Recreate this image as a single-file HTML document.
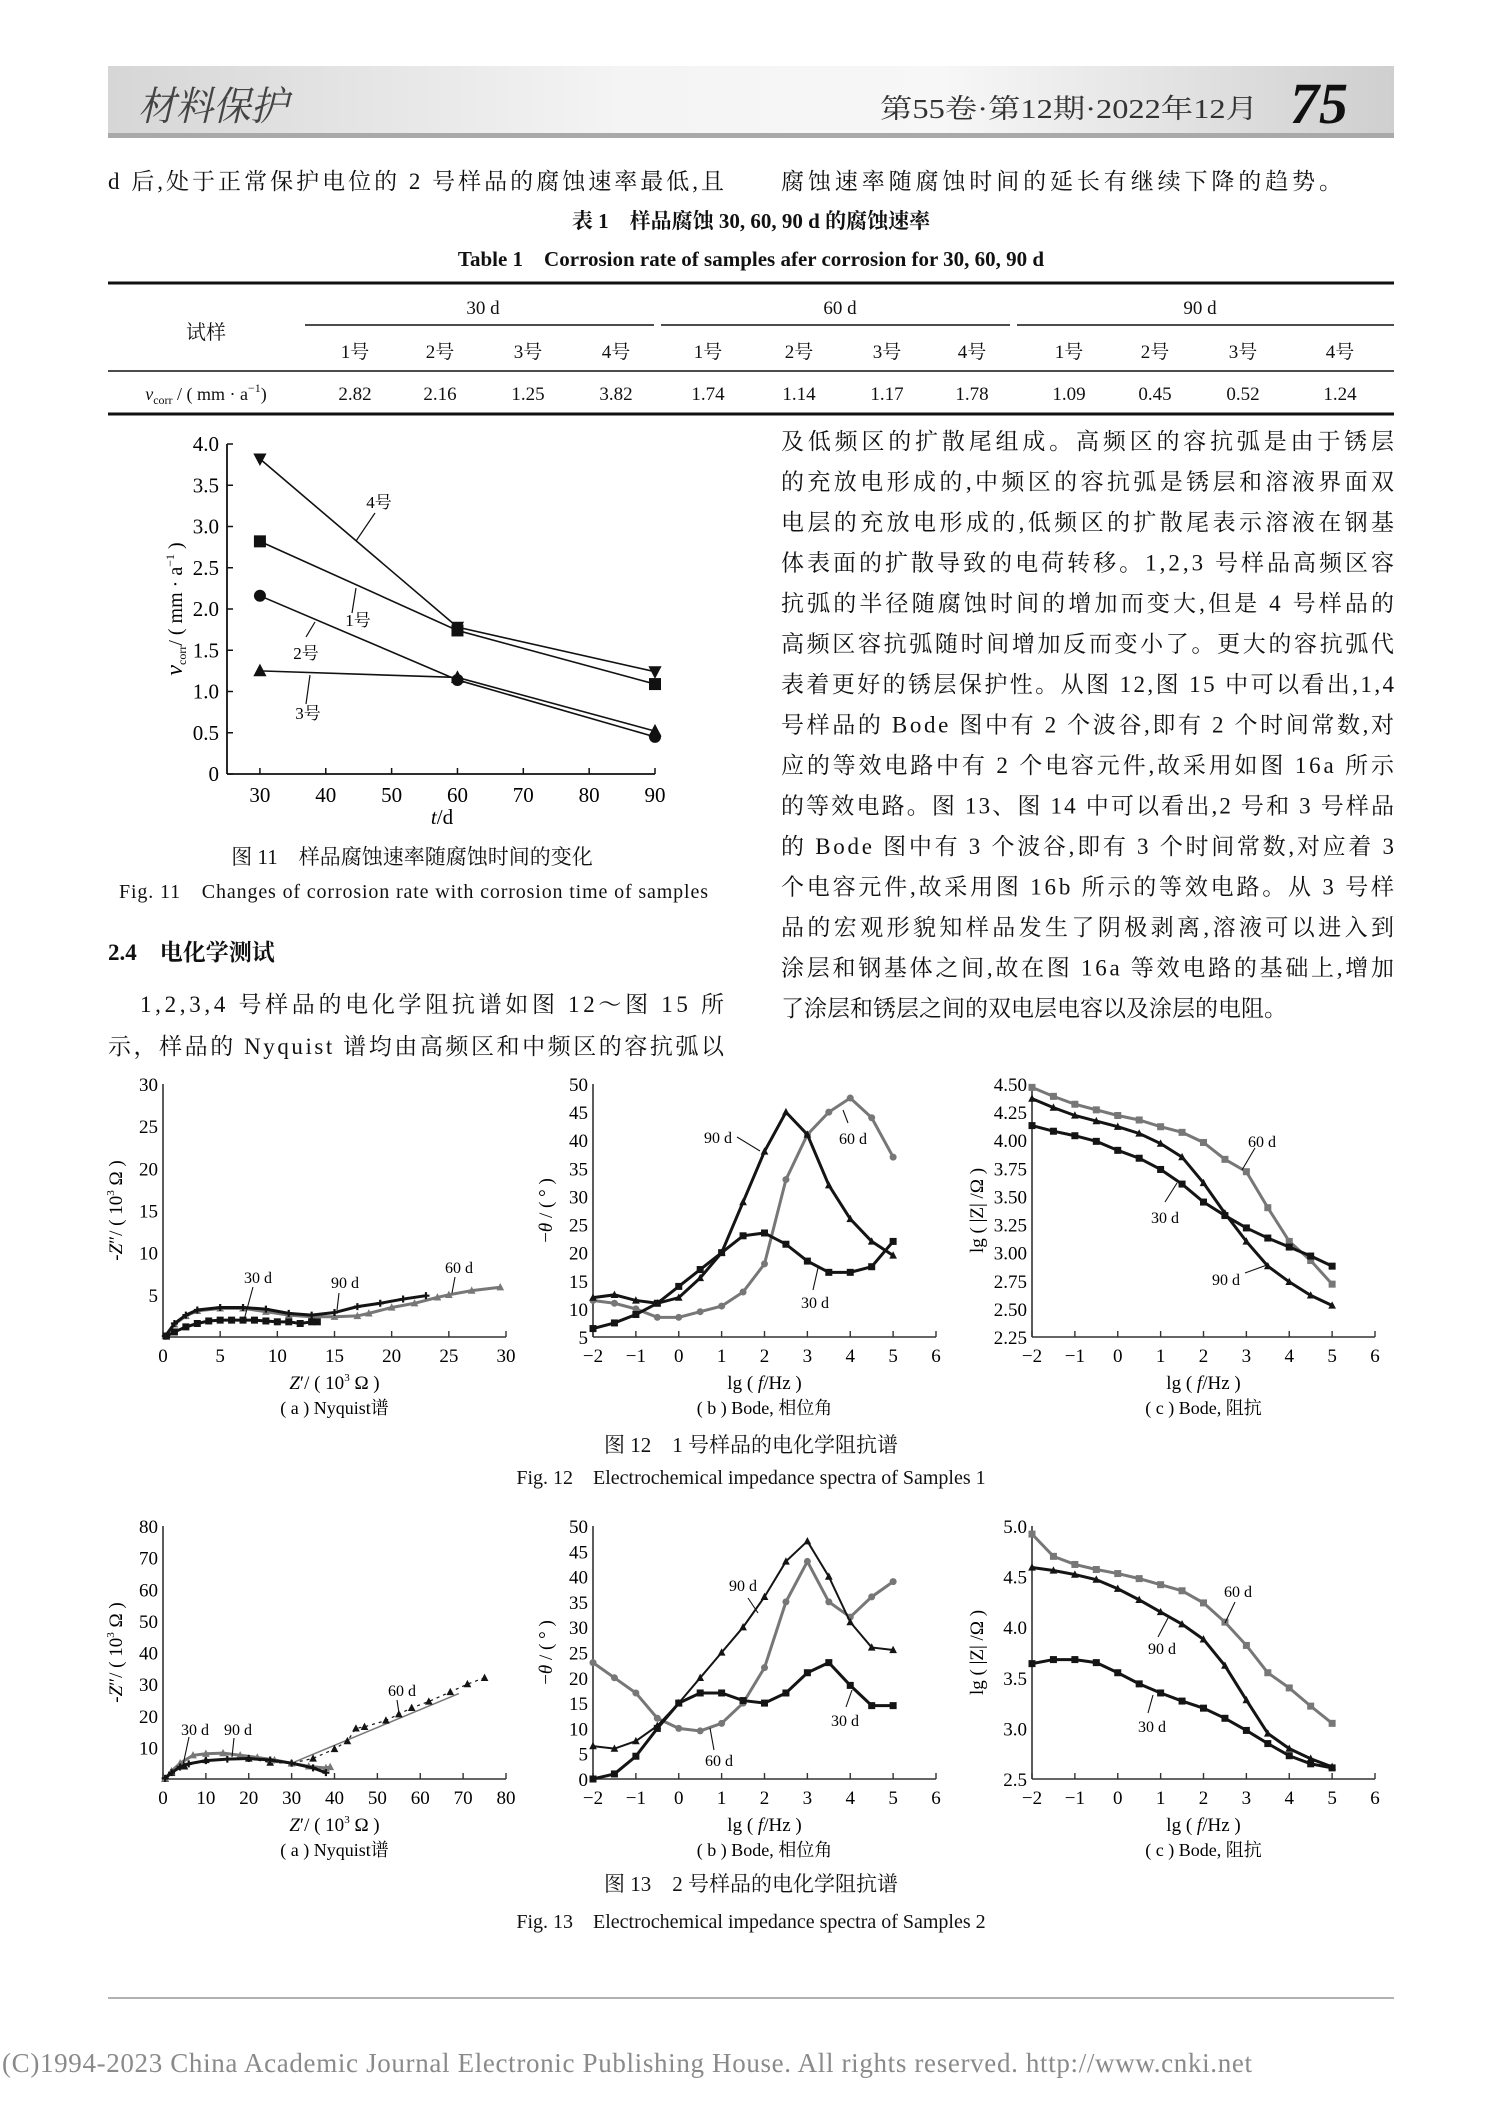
<!DOCTYPE html>
<html><head><meta charset="utf-8"><title>材料保护 p75</title>
<style>
html,body{margin:0;padding:0;background:#fff;}
svg{display:block;}
.s{font-family:"Liberation Serif","Noto Serif CJK SC",serif;}
.c{font-family:"Liberation Serif","Noto Serif CJK SC",serif;}
.h{font-family:"Liberation Sans","Noto Sans CJK SC",sans-serif;}
</style></head>
<body>
<svg id="page" width="1489" height="2106" viewBox="0 0 1489 2106" xmlns="http://www.w3.org/2000/svg">
<defs>
<linearGradient id="hg" x1="0" x2="1" y1="0" y2="0">
<stop offset="0" stop-color="#d6d6d6"/><stop offset="0.4" stop-color="#f4f4f4"/><stop offset="0.65" stop-color="#f7f7f7"/><stop offset="1" stop-color="#cfcfcf"/>
</linearGradient>
</defs>
<g>
<rect x="108" y="66" width="1286" height="68" fill="url(#hg)"/>
<rect x="108" y="133" width="1286" height="5" fill="#a9a9a9"/>
<text x="138" y="120" font-size="40" font-style="italic" fill="#444" class="c" textLength="150" lengthAdjust="spacingAndGlyphs">材料保护</text>
<text x="880" y="118" font-size="27" fill="#333" class="s" textLength="378" lengthAdjust="spacingAndGlyphs">第55卷·第12期·2022年12月</text>
<text x="1290" y="123" font-size="58" font-weight="bold" font-style="italic" fill="#111" class="s">75</text>
</g>
<g font-size="23" class="c" fill="#111">
<text x="108" y="189" textLength="616" lengthAdjust="spacing">d 后,处于正常保护电位的 2 号样品的腐蚀速率最低,且</text>
<text x="781" y="189" textLength="561" lengthAdjust="spacing">腐蚀速率随腐蚀时间的延长有继续下降的趋势。</text>
</g>
<g class="s" fill="#111">
<text x="751" y="228" font-size="21" text-anchor="middle" font-weight="bold">表 1　样品腐蚀 30, 60, 90 d 的腐蚀速率</text>
<text x="751" y="266" font-size="21" text-anchor="middle" font-weight="bold">Table 1　Corrosion rate of samples afer corrosion for 30,  60, 90 d</text>
<line x1="108" y1="283" x2="1394" y2="283" stroke="#111" stroke-width="3"/>
<line x1="305" y1="325" x2="654" y2="325" stroke="#111" stroke-width="1.5"/>
<line x1="661" y1="325" x2="1010" y2="325" stroke="#111" stroke-width="1.5"/>
<line x1="1017" y1="325" x2="1394" y2="325" stroke="#111" stroke-width="1.5"/>
<line x1="108" y1="371" x2="1394" y2="371" stroke="#111" stroke-width="1.5"/>
<line x1="108" y1="414" x2="1394" y2="414" stroke="#111" stroke-width="3"/>
<text x="206" y="339" font-size="20" text-anchor="middle">试样</text>
<text x="483" y="314" font-size="19" text-anchor="middle">30 d</text>
<text x="840" y="314" font-size="19" text-anchor="middle">60 d</text>
<text x="1200" y="314" font-size="19" text-anchor="middle">90 d</text>
<text x="206" y="400" font-size="18" text-anchor="middle"><tspan font-style="italic">v</tspan><tspan font-size="12" dy="4">corr</tspan><tspan dy="-4"> / ( mm · a</tspan><tspan font-size="12" dy="-8">−1</tspan><tspan dy="8">)</tspan></text>
<g id="tableCells"></g>
</g>

<g id="fig11"></g>
<text x="412" y="864" font-size="21" text-anchor="middle" class="s" fill="#111">图 11　样品腐蚀速率随腐蚀时间的变化</text>
<text x="119" y="898" font-size="20" class="s" fill="#111" textLength="589" lengthAdjust="spacing">Fig. 11　Changes of corrosion rate with corrosion time of samples</text>

<g class="c" fill="#111" font-size="23">
<text x="108" y="960" font-weight="bold">2.4　电化学测试</text>
<text x="140" y="1012" textLength="584" lengthAdjust="spacing">1,2,3,4 号样品的电化学阻抗谱如图 12～图 15 所</text>
<text x="108" y="1054" textLength="616" lengthAdjust="spacing">示，样品的 Nyquist 谱均由高频区和中频区的容抗弧以</text>
</g>
<g id="rightCol" class="c" fill="#111" font-size="23"></g>

<g id="fig12"></g>
<text x="751" y="1452" font-size="21" text-anchor="middle" class="s" fill="#111">图 12　1 号样品的电化学阻抗谱</text>
<text x="751" y="1484" font-size="20" text-anchor="middle" class="s" fill="#111">Fig. 12　Electrochemical impedance spectra of Samples 1</text>
<g id="fig13"></g>
<text x="751" y="1891" font-size="21" text-anchor="middle" class="s" fill="#111">图 13　2 号样品的电化学阻抗谱</text>
<text x="751" y="1928" font-size="20" text-anchor="middle" class="s" fill="#111">Fig. 13　Electrochemical impedance spectra of Samples 2</text>
<line x1="108" y1="1998" x2="1394" y2="1998" stroke="#999" stroke-width="1.5"/>
<text x="2" y="2072" font-size="27" class="s" fill="#8a8a8a" textLength="1250" lengthAdjust="spacing">(C)1994-2023 China Academic Journal Electronic Publishing House. All rights reserved.    http://www.cnki.net</text>
</svg>
<script>
// ---------- Table data ----------
const tableSamples = ["1号","2号","3号","4号","1号","2号","3号","4号","1号","2号","3号","4号"];
const tableRates = ["2.82","2.16","1.25","3.82","1.74","1.14","1.17","1.78","1.09","0.45","0.52","1.24"];

// ---------- Figure 11 data ----------
const f11Days = [30, 60, 90];
const f11Sample1 = [2.82, 1.74, 1.09];
const f11Sample2 = [2.16, 1.14, 0.45];
const f11Sample3 = [1.25, 1.17, 0.52];
const f11Sample4 = [3.82, 1.78, 1.24];
const f11YTicks = [0, 0.5, 1.0, 1.5, 2.0, 2.5, 3.0, 3.5, 4.0];
const f11YLabels = ["0","0.5","1.0","1.5","2.0","2.5","3.0","3.5","4.0"];
const f11XTicks = [30, 40, 50, 60, 70, 80, 90];

// ---------- Figure 12 / 13 data ----------
const lgF = [-2, -1.5, -1, -0.5, 0, 0.5, 1, 1.5, 2, 2.5, 3, 3.5, 4, 4.5, 5];
const bodeXTicks = [-2, -1, 0, 1, 2, 3, 4, 5, 6];
const bodeXLabels = ["−2","−1","0","1","2","3","4","5","6"];

const f12aZre30 = [0.3, 1, 2, 3, 4, 5, 6, 7, 8, 9, 10, 11, 12, 13, 13.5];
const f12aZim30 = [0.1, 0.6, 1.2, 1.6, 1.9, 2.0, 2.0, 2.0, 2.0, 1.9, 1.8, 1.8, 1.6, 1.8, 1.8];
const f12aZre60 = [0.2, 1, 2, 3, 5, 7, 9, 11, 13, 15, 17, 18, 20, 22, 24, 25, 27, 29.5];
const f12aZim60 = [0.1, 1.5, 2.5, 3.1, 3.4, 3.4, 3.0, 2.6, 2.4, 2.4, 2.5, 2.8, 3.5, 4.0, 4.7, 5.0, 5.5, 5.9];
const f12aZre90 = [0.2, 1, 2, 3, 5, 7, 9, 11, 13, 15, 17, 19, 21, 23];
const f12aZim90 = [0.1, 1.6, 2.6, 3.2, 3.5, 3.5, 3.3, 2.8, 2.6, 2.9, 3.6, 4.0, 4.5, 4.9];
const f12aTicks = [0, 5, 10, 15, 20, 25, 30];

const f12bPhase30 = [6.5, 7.5, 9, 11, 14, 17, 20, 23, 23.5, 21.5, 18.5, 16.5, 16.5, 17.5, 22];
const f12bPhase60 = [11.5, 11, 10, 8.5, 8.5, 9.5, 10.5, 13, 18, 33, 41, 45, 47.5, 44, 37];
const f12bPhase90 = [12, 12.5, 11.5, 11, 12, 15.5, 20, 29, 38, 45, 41, 32, 26, 22, 19.5];
const f12bYTicks = [5, 10, 15, 20, 25, 30, 35, 40, 45, 50];

const f12cZ30 = [4.13, 4.08, 4.04, 3.99, 3.91, 3.84, 3.74, 3.61, 3.45, 3.33, 3.22, 3.13, 3.05, 2.97, 2.88];
const f12cZ60 = [4.47, 4.39, 4.32, 4.27, 4.22, 4.18, 4.12, 4.07, 3.98, 3.83, 3.72, 3.40, 3.10, 2.93, 2.72];
const f12cZ90 = [4.37, 4.29, 4.22, 4.17, 4.12, 4.06, 3.97, 3.85, 3.62, 3.35, 3.10, 2.88, 2.74, 2.62, 2.53];
const f12cYTicks = [2.25, 2.5, 2.75, 3.0, 3.25, 3.5, 3.75, 4.0, 4.25, 4.5];
const f12cYLabels = ["2.25","2.50","2.75","3.00","3.25","3.50","3.75","4.00","4.25","4.50"];

const f13aZre30 = [0.5, 2, 4, 6, 10, 15, 20, 25, 30, 35, 38];
const f13aZim30 = [0.2, 2, 3.8, 4.8, 5.8, 6.3, 6.5, 6.0, 5.0, 3.5, 2.0];
const f13aZre60 = [0.5, 2, 5, 10, 20, 25, 30, 35, 40, 43, 45, 47, 52, 55, 58, 62, 67, 71, 75];
const f13aZim60 = [0.1, 2, 4, 6, 6.5, 5.2, 5.0, 6.5, 9.5, 12, 16, 16.5, 18.5, 20.5, 22.5, 24.5, 27.5, 30, 32];
const f13aZre90 = [0.5, 2, 4, 7, 10, 14, 18, 22, 26, 30, 34, 38, 39];
const f13aZim90 = [0.2, 2.5, 5, 7.5, 8, 8.2, 7.5, 6.8, 6.0, 5.0, 4.0, 3.5, 3.8];
const f13aFitZre = [30, 69];
const f13aFitZim = [5, 27];
const f13aTicks = [0, 10, 20, 30, 40, 50, 60, 70, 80];

const f13bPhase30 = [0, 1, 4.5, 10, 15, 17, 17, 15.5, 15, 17, 21, 23, 18.5, 14.5, 14.5];
const f13bPhase60 = [23, 20, 17, 12, 10, 9.5, 11, 15, 22, 35, 43, 35, 32, 36, 39];
const f13bPhase90 = [6.5, 6, 7.5, 10.5, 15, 20, 25, 30, 36, 43, 47, 40, 31, 26, 25.5];
const f13bYTicks = [0, 5, 10, 15, 20, 25, 30, 35, 40, 45, 50];

const f13cZ30 = [3.64, 3.68, 3.68, 3.65, 3.55, 3.44, 3.35, 3.27, 3.20, 3.10, 2.98, 2.85, 2.73, 2.65, 2.61];
const f13cZ60 = [4.92, 4.70, 4.62, 4.57, 4.53, 4.48, 4.42, 4.36, 4.24, 4.05, 3.82, 3.55, 3.40, 3.22, 3.05];
const f13cZ90 = [4.59, 4.56, 4.52, 4.47, 4.38, 4.27, 4.15, 4.03, 3.88, 3.62, 3.28, 2.95, 2.80, 2.70, 2.62];
const f13cYTicks = [2.5, 3.0, 3.5, 4.0, 4.5, 5.0];
const f13cYLabels = ["2.5","3.0","3.5","4.0","4.5","5.0"];

// ---------- Right column text ----------
const rightLines = [
"及低频区的扩散尾组成。高频区的容抗弧是由于锈层",
"的充放电形成的,中频区的容抗弧是锈层和溶液界面双",
"电层的充放电形成的,低频区的扩散尾表示溶液在钢基",
"体表面的扩散导致的电荷转移。1,2,3 号样品高频区容",
"抗弧的半径随腐蚀时间的增加而变大,但是 4 号样品的",
"高频区容抗弧随时间增加反而变小了。更大的容抗弧代",
"表着更好的锈层保护性。从图 12,图 15 中可以看出,1,4",
"号样品的 Bode 图中有 2 个波谷,即有 2 个时间常数,对",
"应的等效电路中有 2 个电容元件,故采用如图 16a 所示",
"的等效电路。图 13、图 14 中可以看出,2 号和 3 号样品",
"的 Bode 图中有 3 个波谷,即有 3 个时间常数,对应着 3",
"个电容元件,故采用图 16b 所示的等效电路。从 3 号样",
"品的宏观形貌知样品发生了阴极剥离,溶液可以进入到",
"涂层和钢基体之间,故在图 16a 等效电路的基础上,增加",
"了涂层和锈层之间的双电层电容以及涂层的电阻。"
];

const NS = "http://www.w3.org/2000/svg";
function add(parent, tag, attrs, name, txt) {
  const el = document.createElementNS(NS, tag);
  for (const k in attrs) el.setAttribute(k, attrs[k]);
  
  
  if (txt !== undefined) el.textContent = txt;
  parent.appendChild(el);
  return el;
}
function lin(d0, d1, r0, r1) { return v => r0 + (v - d0) / (d1 - d0) * (r1 - r0); }

// table cells
const colX = [355, 440, 528, 616, 708, 799, 887, 972, 1069, 1155, 1243, 1340];
const tc = document.getElementById('tableCells');
tableSamples.forEach((s, i) => {
  add(tc, 'text', {x: colX[i], y: 358, 'font-size': 19, 'text-anchor': 'middle'}, 'sample-col-header', s);
  add(tc, 'text', {x: colX[i], y: 400, 'font-size': 19, 'text-anchor': 'middle'}, 'rate-cell', tableRates[i]);
});

// right column
const rc = document.getElementById('rightCol');
rightLines.forEach((t, i) => {
  const a = {x: 781, y: 449 + i * 40.5};
  if (i < rightLines.length - 1) { a.textLength = 613; a.lengthAdjust = 'spacing'; }
  add(rc, 'text', a, 'right-column-line', t);
});

// markers
function marker(g, type, cx, cy, s, color) {
  if (type === 'square') return add(g, 'rect', {x: cx - s/2, y: cy - s/2, width: s, height: s, fill: color}, 'marker-square');
  if (type === 'circle') return add(g, 'circle', {cx: cx, cy: cy, r: s/2, fill: color}, 'marker-circle');
  if (type === 'tri') return add(g, 'polygon', {points: `${cx},${cy - s*0.6} ${cx - s*0.55},${cy + s*0.45} ${cx + s*0.55},${cy + s*0.45}`, fill: color}, 'marker-triangle');
  if (type === 'dtri') return add(g, 'polygon', {points: `${cx},${cy + s*0.6} ${cx - s*0.55},${cy - s*0.45} ${cx + s*0.55},${cy - s*0.45}`, fill: color}, 'marker-down-triangle');
  if (type === 'plus') return add(g, 'path', {d: `M${cx - s/2},${cy}H${cx + s/2}M${cx},${cy - s/2}V${cy + s/2}`, stroke: color, 'stroke-width': 2.2}, 'marker-plus');
}

// ---------- Figure 11 ----------
(function () {
  const g = document.getElementById('fig11');
  const X = lin(25, 90, 227, 655), Y = lin(0, 4, 774, 444);
  add(g, 'line', {x1: 227, y1: 774, x2: 655, y2: 774, stroke: '#111', 'stroke-width': 1.8}, 'x-axis');
  add(g, 'line', {x1: 227, y1: 774, x2: 227, y2: 444, stroke: '#111', 'stroke-width': 1.8}, 'y-axis');
  f11YTicks.forEach((v, i) => {
    add(g, 'line', {x1: 227, y1: Y(v), x2: 233, y2: Y(v), stroke: '#111', 'stroke-width': 1.5}, 'y-tick');
    add(g, 'text', {x: 219, y: Y(v) + 7, 'font-size': 21, 'text-anchor': 'end', class: 's'}, 'y-tick-label', f11YLabels[i]);
  });
  f11XTicks.forEach(v => {
    add(g, 'line', {x1: X(v), y1: 774, x2: X(v), y2: 768, stroke: '#111', 'stroke-width': 1.5}, 'x-tick');
    add(g, 'text', {x: X(v), y: 802, 'font-size': 21, 'text-anchor': 'middle', class: 's'}, 'x-tick-label', String(v));
  });
  add(g, 'text', {x: 442, y: 824, 'font-size': 21, 'text-anchor': 'middle', class: 's'}, 'x-axis-title', '').innerHTML = '<tspan font-style="italic">t</tspan>/d';
  const yt = add(g, 'text', {x: 0, y: 0, 'font-size': 20, 'text-anchor': 'middle', class: 's', transform: 'translate(182,609) rotate(-90)'}, 'y-axis-title', '');
  yt.innerHTML = '<tspan font-style="italic" font-size="24">v</tspan><tspan font-size="12" dy="4">corr</tspan><tspan dy="-4">/ ( mm · a</tspan><tspan font-size="12" dy="-8">−1</tspan><tspan dy="8"> )</tspan>';
  const series = [[f11Sample1, 'square', 'series-1'], [f11Sample2, 'circle', 'series-2'], [f11Sample3, 'tri', 'series-3'], [f11Sample4, 'dtri', 'series-4']];
  series.forEach(([vals, m, nm]) => {
    const pts = vals.map((v, i) => X(f11Days[i]) + ',' + Y(v)).join(' ');
    add(g, 'polyline', {points: pts, fill: 'none', stroke: '#111', 'stroke-width': 1.6}, nm + '-line');
    vals.forEach((v, i) => marker(g, m, X(f11Days[i]), Y(v), 12, '#111'));
  });
  const labs = [['4号', 379, 508, 375, 513, 356, 541], ['1号', 358, 626, 356, 588, 352, 613], ['2号', 306, 659, 315, 622, 306, 637], ['3号', 308, 719, 310, 675, 306, 704]];
  labs.forEach(l => {
    add(g, 'text', {x: l[1], y: l[2], 'font-size': 17, 'text-anchor': 'middle', class: 's'}, 'series-label', l[0]);
    add(g, 'line', {x1: l[3], y1: l[4], x2: l[5], y2: l[6], stroke: '#111', 'stroke-width': 1.2}, 'label-leader');
  });
})();

// ---------- generic EIS panel ----------
function panel(g, cfg) {
  const X = lin(cfg.xd[0], cfg.xd[1], cfg.px[0], cfg.px[1]);
  const Y = lin(cfg.yd[0], cfg.yd[1], cfg.py[0], cfg.py[1]);
  add(g, 'line', {x1: cfg.px[0], y1: cfg.py[0], x2: cfg.px[1], y2: cfg.py[0], stroke: '#333', 'stroke-width': 1.6}, 'x-axis');
  add(g, 'line', {x1: cfg.px[0], y1: cfg.py[0], x2: cfg.px[0], y2: cfg.py[1], stroke: '#333', 'stroke-width': 1.6}, 'y-axis');
  cfg.xt.forEach((v, i) => {
    add(g, 'line', {x1: X(v), y1: cfg.py[0], x2: X(v), y2: cfg.py[0] - 6, stroke: '#333', 'stroke-width': 1.4}, 'x-tick');
    add(g, 'text', {x: X(v), y: cfg.py[0] + 25, 'font-size': 19, 'text-anchor': 'middle', class: 's'}, 'x-tick-label', cfg.xl[i]);
  });
  cfg.yt.forEach((v, i) => {
    add(g, 'text', {x: cfg.px[0] - 5, y: Y(v) + 7, 'font-size': 19, 'text-anchor': 'end', class: 's'}, 'y-tick-label', cfg.yl[i]);
  });
  const cx = (cfg.px[0] + cfg.px[1]) / 2 + (cfg.titleShift || 0);
  add(g, 'text', {x: cx, y: cfg.py[0] + 52, 'font-size': 19, 'text-anchor': 'middle', class: 's'}, 'x-axis-title', '').innerHTML = cfg.xtitle;
  add(g, 'text', {x: cx, y: cfg.py[0] + 77, 'font-size': 18, 'text-anchor': 'middle', class: 's'}, 'panel-caption', cfg.cap);
  add(g, 'text', {x: 0, y: 0, 'font-size': 19, 'text-anchor': 'middle', class: 's', transform: `translate(${cfg.ytx},${(cfg.py[0] + cfg.py[1]) / 2}) rotate(-90)`}, 'y-axis-title', '').innerHTML = cfg.ytitle;
  cfg.series.forEach(s => {
    const pts = s.x.map((v, i) => X(v) + ',' + Y(s.y[i])).join(' ');
    add(g, 'polyline', {points: pts, fill: 'none', stroke: s.c, 'stroke-width': s.w || 3, 'stroke-dasharray': s.dash || 'none'}, s.n + '-line');
    if (s.m) s.x.forEach((v, i) => marker(g, s.m, X(v), Y(s.y[i]), 7, s.c));
  });
  cfg.labels.forEach(l => {
    add(g, 'text', {x: l[1], y: l[2] + 6, 'font-size': 16, 'text-anchor': 'middle', class: 's'}, 'series-label', l[0]);
    add(g, 'line', {x1: l[3], y1: l[4], x2: l[5], y2: l[6], stroke: '#111', 'stroke-width': 1.1}, 'label-leader');
  });
}
const K = '#141414', G = '#777';
const nyqTitle = '<tspan font-style="italic">Z</tspan>′/ ( 10<tspan font-size="11" dy="-8">3</tspan><tspan dy="8"> Ω )</tspan>';
const nyqY = '-<tspan font-style="italic">Z</tspan>″/ ( 10<tspan font-size="11" dy="-8">3</tspan><tspan dy="8"> Ω )</tspan>';
const fTitle = 'lg ( <tspan font-style="italic">f</tspan>/Hz )';
const thTitle = '−<tspan font-style="italic">θ</tspan> / ( ° )';
const zTitle = 'lg ( |Z| /Ω )';

// Figure 12
(function () {
  const g = document.getElementById('fig12');
  panel(g, {xd: [0, 30], px: [163, 506], yd: [0, 30], py: [1337, 1084], xt: f12aTicks, xl: f12aTicks.map(String),
    yt: f12aTicks.slice(1), yl: f12aTicks.slice(1).map(String), xtitle: nyqTitle, cap: '( a ) Nyquist谱', ytitle: nyqY, ytx: 122,
    series: [{x: f12aZre60, y: f12aZim60, c: G, m: 'tri', n: 'nyq-60d'}, {x: f12aZre90, y: f12aZim90, c: K, m: 'plus', n: 'nyq-90d'}, {x: f12aZre30, y: f12aZim30, c: K, m: 'square', n: 'nyq-30d'}],
    labels: [['30 d', 258, 1277, 253, 1287, 244, 1320], ['90 d', 345, 1282, 339, 1293, 337, 1310], ['60 d', 459, 1267, 455, 1277, 452, 1293]]});
  panel(g, {xd: [-2, 6], px: [593, 936], yd: [5, 50], py: [1337, 1084], xt: bodeXTicks, xl: bodeXLabels,
    yt: f12bYTicks, yl: f12bYTicks.map(String), xtitle: fTitle, cap: '( b ) Bode,  相位角', ytitle: thTitle, ytx: 552,
    series: [{x: lgF, y: f12bPhase60, c: G, m: 'circle', n: 'phase-60d'}, {x: lgF, y: f12bPhase90, c: K, m: 'tri', n: 'phase-90d'}, {x: lgF, y: f12bPhase30, c: K, m: 'square', n: 'phase-30d'}],
    labels: [['90 d', 718, 1137, 737, 1137, 760, 1151], ['60 d', 853, 1138, 848, 1123, 843, 1110], ['30 d', 815, 1302, 813, 1290, 818, 1268]]});
  panel(g, {xd: [-2, 6], px: [1032, 1375], yd: [2.25, 4.5], py: [1337, 1084], xt: bodeXTicks, xl: bodeXLabels,
    yt: f12cYTicks, yl: f12cYLabels, xtitle: fTitle, cap: '( c ) Bode,  阻抗', ytitle: zTitle, ytx: 983,
    series: [{x: lgF, y: f12cZ60, c: G, m: 'square', n: 'imp-60d'}, {x: lgF, y: f12cZ90, c: K, m: 'tri', n: 'imp-90d'}, {x: lgF, y: f12cZ30, c: K, m: 'square', n: 'imp-30d'}],
    labels: [['60 d', 1262, 1141, 1255, 1148, 1242, 1170], ['30 d', 1165, 1217, 1165, 1202, 1177, 1183], ['90 d', 1226, 1279, 1245, 1273, 1267, 1265]]});
})();

// Figure 13
(function () {
  const g = document.getElementById('fig13');
  panel(g, {xd: [0, 80], px: [163, 506], yd: [0, 80], py: [1779, 1526], xt: f13aTicks, xl: f13aTicks.map(String),
    yt: f13aTicks.slice(1), yl: f13aTicks.slice(1).map(String), xtitle: nyqTitle, cap: '( a ) Nyquist谱', ytitle: nyqY, ytx: 122,
    series: [{x: f13aFitZre, y: f13aFitZim, c: G, w: 1.5, n: 'nyq-60d-fit'}, {x: f13aZre60, y: f13aZim60, c: K, m: 'tri', w: 1.2, dash: '3 4', n: 'nyq-60d'}, {x: f13aZre90, y: f13aZim90, c: G, m: 'tri', n: 'nyq-90d'}, {x: f13aZre30, y: f13aZim30, c: K, m: 'plus', n: 'nyq-30d'}],
    labels: [['30 d', 195, 1729, 189, 1737, 183, 1765], ['90 d', 238, 1729, 234, 1738, 232, 1757], ['60 d', 402, 1690, 397, 1700, 399, 1713]]});
  panel(g, {xd: [-2, 6], px: [593, 936], yd: [0, 50], py: [1779, 1526], xt: bodeXTicks, xl: bodeXLabels,
    yt: f13bYTicks, yl: f13bYTicks.map(String), xtitle: fTitle, cap: '( b ) Bode,  相位角', ytitle: thTitle, ytx: 552,
    series: [{x: lgF, y: f13bPhase60, c: G, m: 'circle', n: 'phase-60d'}, {x: lgF, y: f13bPhase90, c: K, m: 'tri', w: 2, n: 'phase-90d'}, {x: lgF, y: f13bPhase30, c: K, m: 'square', n: 'phase-30d'}],
    labels: [['90 d', 743, 1585, 748, 1598, 758, 1613], ['30 d', 845, 1720, 846, 1707, 852, 1690], ['60 d', 719, 1760, 714, 1750, 710, 1728]]});
  panel(g, {xd: [-2, 6], px: [1032, 1375], yd: [2.5, 5], py: [1779, 1526], xt: bodeXTicks, xl: bodeXLabels,
    yt: f13cYTicks, yl: f13cYLabels, xtitle: fTitle, cap: '( c ) Bode,  阻抗', ytitle: zTitle, ytx: 983,
    series: [{x: lgF, y: f13cZ60, c: G, m: 'square', n: 'imp-60d'}, {x: lgF, y: f13cZ90, c: K, m: 'tri', n: 'imp-90d'}, {x: lgF, y: f13cZ30, c: K, m: 'square', n: 'imp-30d'}],
    labels: [['60 d', 1238, 1591, 1235, 1602, 1225, 1623], ['90 d', 1162, 1648, 1158, 1637, 1168, 1618], ['30 d', 1152, 1726, 1148, 1713, 1153, 1695]]});
})();
</script>
</body></html>
